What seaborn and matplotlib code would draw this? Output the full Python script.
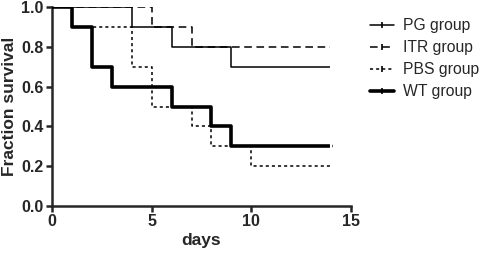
import pandas as pd
import matplotlib
matplotlib.use("Agg")
import matplotlib.pyplot as plt
import seaborn as sns
from matplotlib.lines import Line2D

groups = ["PG group", "ITR group", "PBS group", "WT group"]
pg_days = [0, 4, 6, 9, 14]
pg_surv = [1.0, 0.9, 0.8, 0.7, 0.7]
itr_days = [0, 5, 7, 14]
itr_surv = [1.0, 0.9, 0.8, 0.8]
pbs_days = [0, 1, 4, 5, 7, 8, 10, 14]
pbs_surv = [1.0, 0.9, 0.7, 0.5, 0.4, 0.3, 0.2, 0.2]
wt_days = [0, 1, 2, 3, 6, 8, 9, 14]
wt_surv = [1.0, 0.9, 0.7, 0.6, 0.5, 0.4, 0.3, 0.3]

sns.set_style("ticks")
plt.rcParams["font.family"] = ["Liberation Sans", "DejaVu Sans"]

data = {"PG group": (pg_days, pg_surv), "ITR group": (itr_days, itr_surv),
        "PBS group": (pbs_days, pbs_surv), "WT group": (wt_days, wt_surv)}
styles = {"PG group": dict(lw=1.1, ls="-"),
          "ITR group": dict(lw=1.1, ls=(0, (5, 3))),
          "PBS group": dict(lw=1.1, ls=(0, (2, 2))),
          "WT group": dict(lw=2.6, ls="-")}

fig = plt.figure(figsize=(4.84, 2.54), dpi=100)
ax = fig.add_axes([52/484, 1-206/254, 299/484, 199/254])

handles = []
for g in groups:
    d, s = data[g]
    df = pd.DataFrame({"days": d, "surv": s})
    sns.lineplot(data=df, x="days", y="surv", ax=ax, color="black",
                 drawstyle="steps-post", estimator=None, sort=False,
                 linewidth=styles[g]["lw"], linestyle=styles[g]["ls"],
                 marker="|", markevery=[len(d)-1], markersize=6,
                 markeredgewidth=1.5, zorder=3 if g == "WT group" else 2)
    handles.append(Line2D([0], [0], color="black", lw=styles[g]["lw"],
                          ls=styles[g]["ls"], marker="|", markersize=5,
                          markeredgewidth=1.2))

ax.set_xlim(0, 15)
ax.set_ylim(0, 1.0)
ax.set_xticks([0, 5, 10, 15])
ax.set_yticks([0, 0.2, 0.4, 0.6, 0.8, 1.0])
ax.set_yticklabels(["0.0", "0.2", "0.4", "0.6", "0.8", "1.0"])
ax.tick_params(labelsize=11.5, width=1.8, length=4, pad=2)
for lab in ax.get_xticklabels() + ax.get_yticklabels():
    lab.set_fontweight("bold")
for sp in ["left", "bottom"]:
    ax.spines[sp].set_linewidth(1.8)
sns.despine(ax=ax)
ax.set_xlabel("days", fontsize=12.5, fontweight="bold", labelpad=3)
ax.set_ylabel("Fraction survival", fontsize=12.5, fontweight="bold", labelpad=3)

fig.legend(handles, groups, loc="upper left", bbox_to_anchor=(364/484, 1-12/254),
           frameon=False, fontsize=11.3, handlelength=1.5, handletextpad=0.6,
           labelspacing=0.44, borderaxespad=0)

fig.savefig("out.png", dpi=100)
